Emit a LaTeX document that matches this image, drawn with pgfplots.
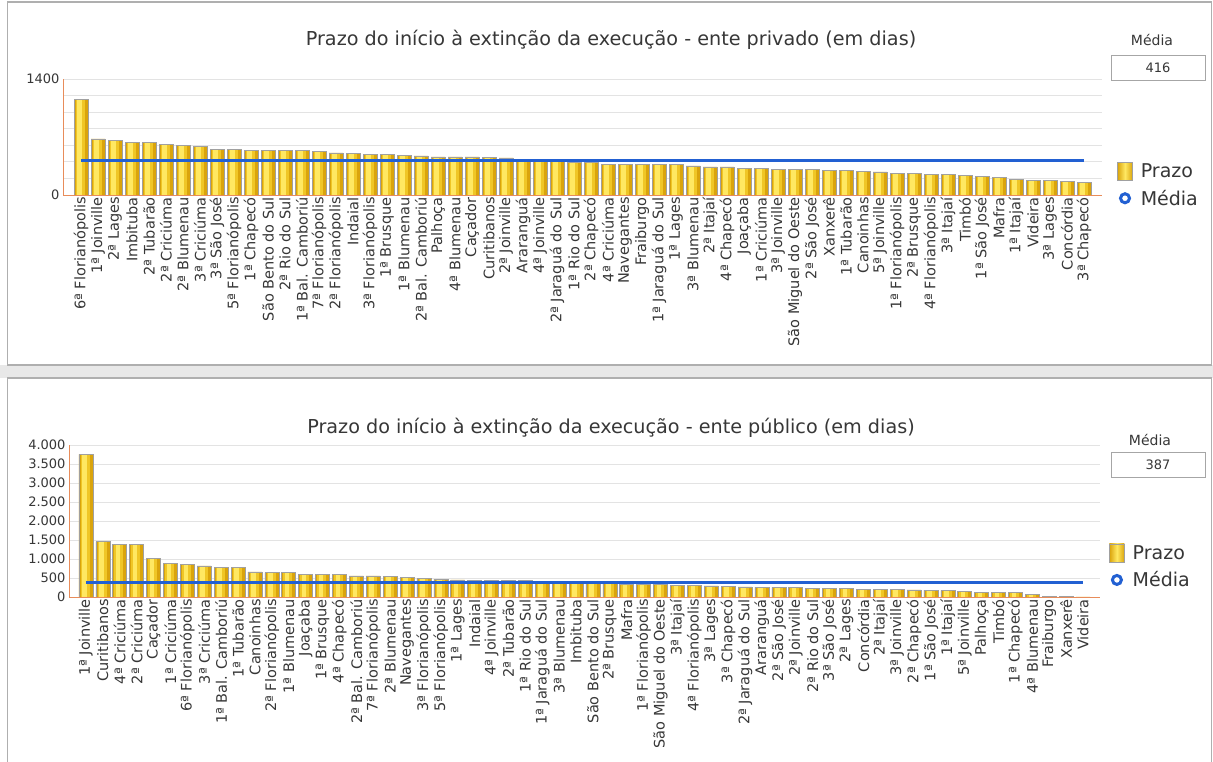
\documentclass[border=0pt]{standalone}
\usepackage{pgfplots}
\usepackage{pgfplotstable}
\pgfplotsset{compat=1.18}
\usepackage{fontspec}
\setmainfont{DejaVu Sans}

\definecolor{barDark}{RGB}{218,164,12}
\definecolor{barMid}{RGB}{240,198,38}
\definecolor{barLight}{RGB}{255,232,98}
\definecolor{barEdge}{RGB}{160,160,160}
\definecolor{meanBlue}{RGB}{34,96,210}
\definecolor{axisOrange}{RGB}{232,140,90}
\definecolor{txt}{RGB}{55,55,55}
\definecolor{frameGray}{RGB}{175,175,175}

% Prazo médio por comarca - ente privado
\pgfplotstableread[col sep=semicolon]{
nome;dias
6ª Florianópolis;1150
1ª Joinville;676
2ª Lages;660
Imbituba;632
2ª Tubarão;630
2ª Criciúma;611
2ª Blumenau;595
3ª Criciúma;583
3ª São José;555
5ª Florianópolis;555
1ª Chapecó;540
São Bento do Sul;540
2ª Rio do Sul;539
1ª Bal. Camboriú;538
7ª Florianópolis;523
2ª Florianópolis;507
Indaial;506
3ª Florianópolis;487
1ª Brusque;486
1ª Blumenau;473
2ª Bal. Camboriú;472
Palhoça;460
4ª Blumenau;460
Caçador;459
Curitibanos;458
2ª Joinville;448
Araranguá;432
4ª Joinville;412
2ª Jaraguá do Sul;411
1ª Rio do Sul;400
2ª Chapecó;400
4ª Criciúma;368
Navegantes;367
Fraiburgo;367
1ª Jaraguá do Sul;366
1ª Lages;365
3ª Blumenau;352
2ª Itajaí;340
4ª Chapecó;339
Joaçaba;324
1ª Criciúma;323
3ª Joinville;308
São Miguel do Oeste;307
2ª São José;306
Xanxerê;296
1ª Tubarão;295
Canoinhas;280
5ª Joinville;279
1ª Florianópolis;264
2ª Brusque;263
4ª Florianópolis;248
3ª Itajaí;247
Timbó;236
1ª São José;220
Mafra;208
1ª Itajaí;192
Videira;180
3ª Lages;179
Concórdia;160
3ª Chapecó;148
}\privado

% Prazo médio por comarca - ente público
\pgfplotstableread[col sep=semicolon]{
nome;dias
1ª Joinville;3750
Curitibanos;1456
4ª Criciúma;1380
2ª Criciúma;1377
Caçador;1017
1ª Criciúma;886
6ª Florianópolis;851
3ª Criciúma;816
1ª Bal. Camboriú;781
1ª Tubarão;779
Canoinhas;658
2ª Florianópolis;642
1ª Blumenau;640
Joaçaba;590
1ª Brusque;588
4ª Chapecó;586
2ª Bal. Camboriú;555
7ª Florianópolis;553
2ª Blumenau;550
Navegantes;520
3ª Florianópolis;490
5ª Florianópolis;470
1ª Lages;450
Indaial;445
4ª Joinville;440
2ª Tubarão;435
1ª Rio do Sul;430
1ª Jaraguá do Sul;370
3ª Blumenau;365
Imbituba;360
São Bento do Sul;355
2ª Brusque;350
Mafra;345
1ª Florianópolis;340
São Miguel do Oeste;335
3ª Itajaí;300
4ª Florianópolis;295
3ª Lages;290
3ª Chapecó;270
2ª Jaraguá do Sul;265
Araranguá;260
2ª São José;255
2ª Joinville;250
2ª Rio do Sul;235
3ª São José;230
2ª Lages;225
Concórdia;200
2ª Itajaí;195
3ª Joinville;190
2ª Chapecó;185
1ª São José;180
1ª Itajaí;175
5ª Joinville;150
Palhoça;130
Timbó;125
1ª Chapecó;120
4ª Blumenau;60
Fraiburgo;20
Xanxerê;10
Videira;5
}\publico

\pgfplotsset{
  painel/.style={
    scale only axis,
    ymin=0,
    axis x line*=bottom,
    axis y line*=left,
    axis line style={axisOrange, line width=0.9pt, -},
    xtick={0,...,59},
    major tick length=0pt,
    x tick label style={rotate=90, anchor=east, text=txt,
      font=\fontsize{14.5}{14.5}\selectfont, inner sep=2pt},
    y tick label style={text=txt, font=\fontsize{13}{13}\selectfont},
    /pgf/number format/assume math mode=true,
    ymajorgrids,
    grid style={gray!22, line width=0.9pt},
    legend cell align=left,
    legend style={draw=none, fill=none, anchor=north west,
      font=\fontsize{19}{19}\selectfont, text=txt,
      row sep=7pt, inner sep=0pt,
      /tikz/every odd column/.append style={column sep=6pt}},
  },
  % corpo da barra (cor de base), com a legenda em degradê
  barras/.style={
    ybar, bar width=14pt, draw=none, fill=barDark,
    legend image code/.code={
      \draw[draw=barEdge, line width=0.6pt, left color=barDark,
        right color=barDark, middle color=barLight]
        (0pt,-9pt) rectangle (15pt,9pt);},
  },
  % faixas claras sobre cada barra, simulando o brilho cilíndrico
  brilho/.style={ycomb, forget plot, mark=none, line cap=butt},
  contorno/.style={ybar, bar width=14pt, draw=barEdge, line width=0.6pt,
    fill=none, forget plot},
  media/.style={
    meanBlue, line width=2.6pt,
    legend image code/.code={
      \draw[meanBlue, line width=3pt, fill=white] (7.5pt,0pt) circle (4.5pt);},
  },
}

\begin{document}
\begin{tikzpicture}
\path[use as bounding box, fill=white] (0pt,0pt) rectangle (1213pt,762pt);

% molduras dos painéis
\fill[gray!18] (0pt,384pt) rectangle (1213pt,397pt);
\draw[frameGray, line width=1.2pt] (7.5pt,397pt) rectangle (1211.5pt,760pt);
\draw[frameGray, line width=1.2pt] (7.5pt,-5pt) rectangle (1211.5pt,384pt);

% títulos
\node[text=txt, font=\fontsize{19.2}{19.2}\selectfont] at (611pt,722pt)
  {Prazo do início à extinção da execução - ente privado (em dias)};
\node[text=txt, font=\fontsize{19.2}{19.2}\selectfont] at (611pt,334pt)
  {Prazo do início à extinção da execução - ente público (em dias)};

% caixas da média
\node[text=txt, font=\fontsize{14}{14}\selectfont] at (1152pt,722pt) {Média};
\node[draw=gray!70, line width=0.8pt, minimum width=94pt, minimum height=25pt,
  text=txt, font=\fontsize{13}{13}\selectfont] at (1158pt,694.5pt) {416};
\node[text=txt, font=\fontsize{14}{14}\selectfont] at (1150pt,322pt) {Média};
\node[draw=gray!70, line width=0.8pt, minimum width=94pt, minimum height=25pt,
  text=txt, font=\fontsize{13}{13}\selectfont] at (1158pt,297pt) {387};

% ente privado
\begin{axis}[painel,
  at={(63pt,567pt)}, anchor=south west,
  width=1039pt, height=116pt,
  xmin=-1.06, xmax=60.06, ymax=1400,
  ytick={0,200,...,1400},
  yticklabels={0,,,,,,,1400},
  xticklabels from table={\privado}{nome},
  legend style={at={(1.0144,0.29)}},
]
\addplot[barras] table[x expr=\coordindex, y=dias] {\privado};
\addlegendentry{Prazo}
\addplot[brilho, barMid, line width=9pt, xshift=-0.8pt]
  table[x expr=\coordindex, y=dias] {\privado};
\addplot[brilho, barLight, line width=4.5pt, xshift=-1.5pt]
  table[x expr=\coordindex, y=dias] {\privado};
\addplot[contorno] table[x expr=\coordindex, y=dias] {\privado};
\addplot[media] coordinates {(0,416) (59,416)};
\addlegendentry{Média}
\end{axis}

% ente público
\begin{axis}[painel,
  at={(69pt,165pt)}, anchor=south west,
  width=1031pt, height=152pt,
  xmin=-1.0, xmax=60.0, ymax=4000,
  ytick={0,500,...,4000},
  scaled y ticks=false,
  yticklabel style={/pgf/number format/.cd, 1000 sep={.}, fixed},
  xticklabels from table={\publico}{nome},
  legend style={at={(1.0087,0.355)}},
]
\addplot[barras] table[x expr=\coordindex, y=dias] {\publico};
\addlegendentry{Prazo}
\addplot[brilho, barMid, line width=9pt, xshift=-0.8pt]
  table[x expr=\coordindex, y=dias] {\publico};
\addplot[brilho, barLight, line width=4.5pt, xshift=-1.5pt]
  table[x expr=\coordindex, y=dias] {\publico};
\addplot[contorno] table[x expr=\coordindex, y=dias] {\publico};
\addplot[media] coordinates {(0,387) (59,387)};
\addlegendentry{Média}
\end{axis}
\end{tikzpicture}
\end{document}
